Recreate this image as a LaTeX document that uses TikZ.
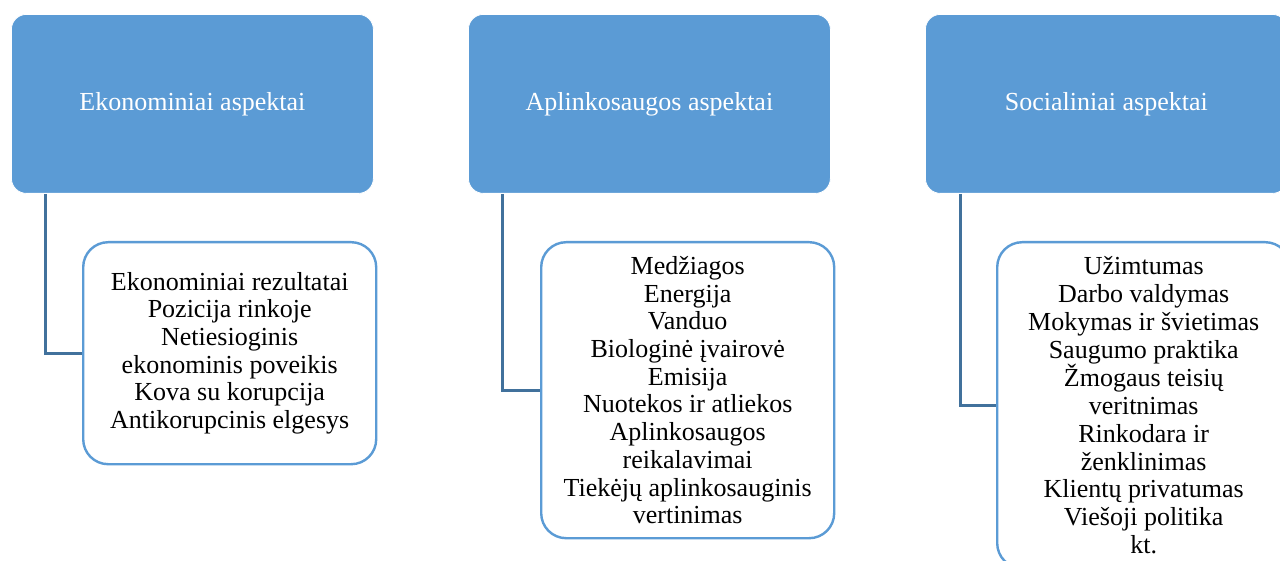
\documentclass[tikz,border=0pt]{standalone}
\usepackage{fontspec}
\setmainfont{Liberation Serif}
\definecolor{topblue}{HTML}{5B9BD5}
\definecolor{linkblue}{HTML}{41719C}
\begin{document}
\begin{tikzpicture}[x=1pt,y=-1pt,
  topbox/.style={draw=white,line width=0.8pt,fill=topblue,rounded corners=15pt,
    minimum width=362pt,minimum height=179pt,anchor=north west,inner sep=0pt,
    text=white,font=\fontsize{26}{27.7}\selectfont},
  childbox/.style={draw=topblue,line width=2.4pt,fill=white,rounded corners=25pt,
    minimum width=293pt,anchor=north west,inner sep=0pt,align=center,
    font=\fontsize{26}{27.7}\selectfont},
  link/.style={draw=linkblue,line width=3pt}]
\useasboundingbox (0,0) rectangle (1280,561);
\clip (0,0) rectangle (1280,561);
\fill[white] (0,0) rectangle (1280,561);
% top boxes
\node[topbox] (t1) at (11,14) {Ekonominiai aspektai};
\node[topbox] (t2) at (468,14) {Aplinkosaugos aspektai};
\node[topbox] (t3) at (925,14) {Socialiniai aspektai};
% connector starts
\coordinate (s1) at ([xshift=34pt]t1.south west);
\coordinate (s2) at ([xshift=34pt]t2.south west);
\coordinate (s3) at ([xshift=35pt]t3.south west);
% child boxes
\node[childbox,minimum height=222pt] (c1) at (82,241)
  {Ekonominiai rezultatai\\Pozicija rinkoje\\Netiesioginis\\ekonominis poveikis\\Kova su korupcija\\Antikorupcinis elgesys};
\node[childbox,minimum height=296pt] (c2) at (540,241)
  {Medžiagos\\Energija\\Vanduo\\Biologinė įvairovė\\Emisija\\Nuotekos ir atliekos\\Aplinkosaugos\\reikalavimai\\Tiekėjų aplinkosauginis\\vertinimas};
\node[childbox,minimum height=326pt] (c3) at (996,241)
  {Užimtumas\\Darbo valdymas\\Mokymas ir švietimas\\Saugumo praktika\\Žmogaus teisių\\veritnimas\\Rinkodara ir\\ženklinimas\\Klientų privatumas\\Viešoji politika\\kt.};
\draw[link] (s1) |- (c1.west);
\draw[link] (s2) |- (c2.west);
\draw[link] (s3) |- (c3.west);
\end{tikzpicture}
\end{document}
